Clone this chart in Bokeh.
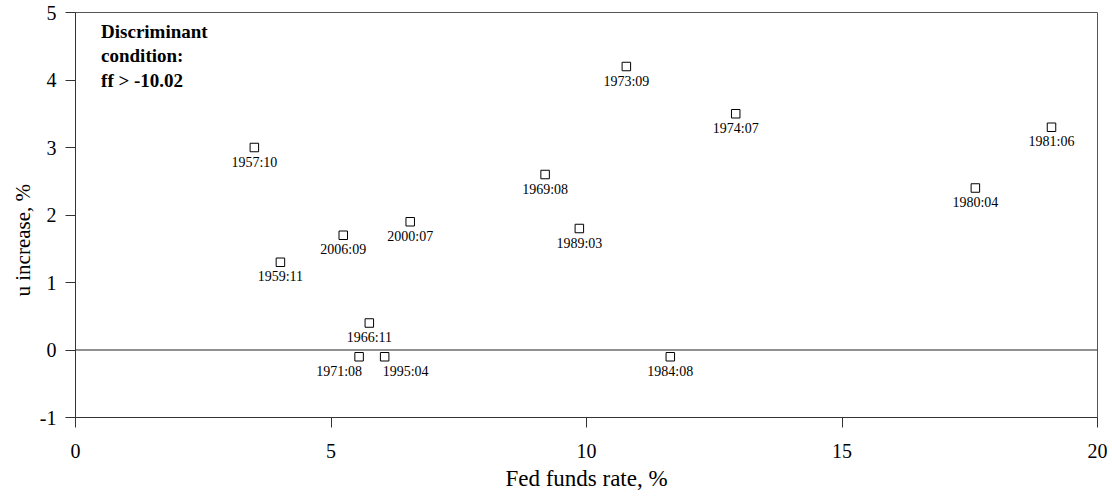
from bokeh.plotting import figure
from bokeh.models import ColumnDataSource, Span, Label, FixedTicker, Title
from bokeh.core.properties import value
from bokeh.embed import file_html
from bokeh.resources import INLINE

# ---- data ----
dates = ["1957:10", "1959:11", "2006:09", "2000:07", "1966:11", "1971:08", "1995:04",
         "1969:08", "1989:03", "1973:09", "1984:08", "1974:07", "1980:04", "1981:06"]
fed_funds = [3.50, 4.01, 5.24, 6.55, 5.75, 5.55, 6.05,
             9.19, 9.86, 10.78, 11.64, 12.92, 17.61, 19.10]
u_increase = [3.0, 1.3, 1.7, 1.9, 0.4, -0.1, -0.1,
              2.6, 1.8, 4.2, -0.1, 3.5, 2.4, 3.3]
x_ticks = [0, 5, 10, 15, 20]
y_ticks = [-1, 0, 1, 2, 3, 4, 5]
y_tick_labels = {-1: "-1"}
note_lines = ["Discriminant", "condition:", "ff > -10.02"]
x_title = "Fed funds rate, %"
y_title = "u increase, %"

SERIF = "Liberation Serif"

# label placement (style)
align_map = {"1971:08": ("right", 3), "1995:04": ("left", -2)}
aligns = [align_map.get(d, ("center", 0))[0] for d in dates]
xoffs = [align_map.get(d, ("center", 0))[1] for d in dates]

src = ColumnDataSource(dict(x=fed_funds, y=u_increase, label=dates, align=aligns, xoff=xoffs))

p = figure(width=1110, height=495, x_range=(0, 20), y_range=(-1, 5),
           output_backend="svg", toolbar_location=None,
           min_border_left=75, min_border_right=13, min_border_top=12, min_border_bottom=78)
p.background_fill_color = "white"
p.border_fill_color = "white"
p.grid.visible = False
p.outline_line_color = "#555555"
p.outline_line_width = 1

p.add_layout(Span(location=0, dimension="width", line_color="#222222", line_width=1))

p.scatter("x", "y", source=src, marker="square", size=8.5,
          fill_color="white", line_color="black", line_width=1)
p.text("x", "y", text="label", source=src, text_align="align", x_offset="xoff",
       y_offset=7, text_baseline="top", text_font=value(SERIF),
       text_font_size="14px", text_color="black")

for i, line in enumerate(note_lines):
    p.add_layout(Label(x=0.5, y=4.88, text=line, y_offset=-24.5 * i, text_baseline="top",
                       text_font=SERIF, text_font_size="19px", text_font_style="bold",
                       text_color="black"))

# y-axis title as a side title (starts 121px above the frame bottom, as in the reference)
p.add_layout(Title(text=y_title, align="left", offset=121, standoff=4,
                   text_font=SERIF, text_font_size="21px", text_font_style="normal",
                   text_color="black"), "left")

for ax in (p.xaxis[0], p.yaxis[0]):
    ax.axis_line_color = "#333333"
    ax.major_tick_line_color = "#333333"
    ax.minor_tick_line_color = None
    ax.major_tick_in = 0
    ax.major_tick_out = 10
    ax.major_label_text_font = SERIF
    ax.major_label_text_font_size = "20px"
    ax.major_label_text_color = "black"
    ax.axis_label_text_font = SERIF
    ax.axis_label_text_font_size = "23px"
    ax.axis_label_text_font_style = "normal"
    ax.axis_label_text_color = "black"

p.xaxis.ticker = FixedTicker(ticks=x_ticks)
p.yaxis.ticker = FixedTicker(ticks=y_ticks)
p.yaxis.major_label_overrides = y_tick_labels
p.xaxis.axis_label = x_title
p.xaxis.major_label_standoff = 16
p.yaxis.major_label_standoff = 9
p.xaxis.axis_label_standoff = 5

open("out.html", "w").write(file_html(p, INLINE))
